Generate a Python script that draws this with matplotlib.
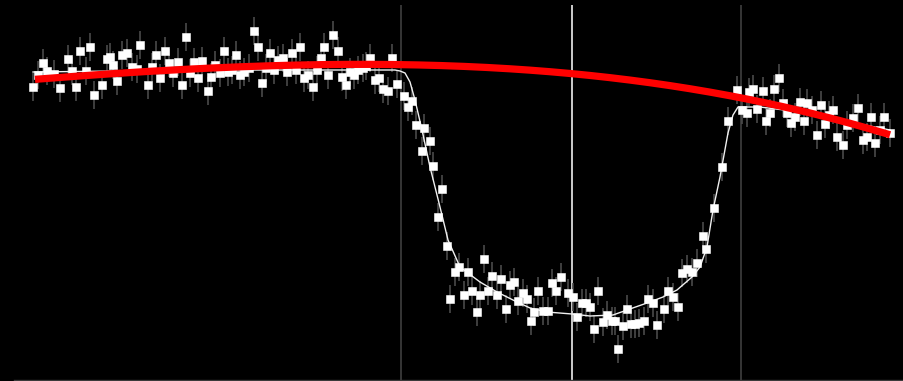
import numpy as np
import matplotlib
matplotlib.use("Agg")
import matplotlib.pyplot as plt

# Light curve of a transit: time since mid-transit (minutes) and relative flux
time_min = [
    -269.5, -267, -264.5, -262.5, -259, -256, -252, -250, -248, -246, -243, -241, -239,
    -235, -232.5, -231, -229.5, -227.5, -225, -222.5, -220, -217.5, -216, -212, -210,
    -208, -206, -203.5, -201.5, -199.5, -197, -195, -193, -191, -189, -187, -185, -182,
    -180.5, -178.5, -176, -174, -172, -170, -168, -166, -164, -161.5, -159, -157, -155,
    -153, -151, -149, -147, -144.5, -142.5, -140, -138, -136, -134, -132, -129.5,
    -127.5, -125.5, -124, -122, -119.5, -117, -115, -113, -111, -109, -107, -104.5,
    -103, -101, -98.5, -96.5, -94.5, -92, -90, -87.5,
    -84, -82, -80, -78, -75, -74, -71, -69.5, -67, -65, -62.5, -61, -58.5, -56.5, -54,
    -52, -50, -47.5, -46, -44, -42, -40, -37.5, -35.5, -33, -31, -29, -27, -24.5,
    -22.5, -20.5, -19, -17, -14.5, -12, -10, -8, -5.5, -2, 0.5, 2.5, 5, 7, 9, 11, 13,
    15.5, 17.5, 20, 21.5, 23, 25.5, 27.5, 29.5, 31.5, 33.5, 36, 38, 40.5, 42.5, 46, 48,
    50.5, 53, 55, 57.5, 60, 62.5, 65.5, 67, 71, 75, 78,
    82.5, 85, 87.5, 88.5, 90.5, 92.5, 95.5, 97, 99, 101, 103.5, 105.5, 107.5, 109.5,
    111.5, 114, 116, 117.5, 120, 122.5, 124.5, 126.5, 128.5, 130.5, 132.5, 135.5,
    137.5, 140.5, 143, 145.5, 147.5, 149.5, 151.5, 154, 156, 159,
]
rel_flux = [
    0.9978, 0.9990, 1.0002, 0.9994, 0.9991, 0.9977, 1.0006, 0.9994, 0.9978, 1.0014,
    0.9994, 1.0018, 0.9970, 0.9980, 1.0006, 1.0008, 1.0000, 0.9984, 1.0010, 1.0012,
    0.9998, 0.9996, 1.0020, 0.9980, 0.9998, 1.0010, 0.9987, 1.0014, 1.0002, 0.9992,
    1.0003, 0.9980, 1.0028, 0.9992, 1.0003, 0.9987, 1.0004, 0.9974, 0.9988, 1.0000,
    0.9992, 1.0014, 0.9993, 0.9995, 1.0010, 0.9990, 0.9993, 0.9997, 1.0034, 1.0018,
    0.9982, 0.9997, 1.0012, 0.9995, 1.0005, 1.0007, 0.9993, 1.0012, 0.9995, 1.0018,
    0.9987, 0.9990, 0.9978, 0.9995, 1.0007, 1.0018, 0.9990, 1.0030, 1.0014, 0.9988,
    0.9980, 0.9993, 0.9990, 0.9995, 0.9997, 0.9999, 1.0007, 0.9985, 0.9987, 0.9976,
    0.9974, 1.0007, 0.9981,
    0.9969, 0.9958, 0.9964, 0.9940, 0.9914, 0.9937, 0.9924, 0.9899, 0.9848, 0.9876,
    0.9819, 0.9766, 0.9793, 0.9798, 0.9770, 0.9793, 0.9774, 0.9753, 0.9770, 0.9806,
    0.9774, 0.9789, 0.9770, 0.9786, 0.9756, 0.9780, 0.9783, 0.9764, 0.9772, 0.9766,
    0.9744, 0.9753, 0.9774, 0.9754, 0.9754, 0.9782, 0.9774, 0.9788, 0.9772, 0.9768,
    0.9748, 0.9762, 0.9762, 0.9758, 0.9736, 0.9774, 0.9743, 0.9750, 0.9744, 0.9744,
    0.9716, 0.9739, 0.9756, 0.9741, 0.9741, 0.9742, 0.9744, 0.9766, 0.9762, 0.9740,
    0.9756, 0.9774, 0.9768, 0.9758, 0.9792, 0.9796, 0.9793, 0.9802, 0.9829, 0.9816,
    0.9857, 0.9898, 0.9944,
    0.9975, 0.9955, 0.9952, 0.9973, 0.9976, 0.9956, 0.9974, 0.9944, 0.9952, 0.9976,
    0.9987, 0.9962, 0.9952, 0.9942, 0.9948, 0.9963, 0.9944, 0.9962, 0.9955, 0.9930,
    0.9960, 0.9941, 0.9950, 0.9955, 0.9928, 0.9920, 0.9940, 0.9947, 0.9957, 0.9925,
    0.9928, 0.9948, 0.9922, 0.9935, 0.9948, 0.9932,
]
flux_err = 0.0014

# Fitted transit model (time, flux)
model_time = [
    -269.5, -186, -88.5, -86, -83.5, -81, -78.5, -75, -71, -66, -62, -56, -46, -37.5,
    -29.5, -21, -12.5, 0, 9, 20.5, 27.5, 37.5, 45.5, 52.5, 60, 64, 67.5, 70.5, 74, 78,
    80.5, 83, 94, 114, 139, 159,
]
model_flux = [
    0.9993, 0.9995, 0.9995, 0.9994, 0.9992, 0.9983, 0.9965, 0.9935, 0.9898, 0.9858,
    0.9825, 0.9798, 0.9783, 0.9773, 0.9765, 0.9757, 0.9753, 0.9751, 0.9749, 0.9750,
    0.9755, 0.9762, 0.9768, 0.9775, 0.9788, 0.9798, 0.9818, 0.9855, 0.9888, 0.9932,
    0.9950, 0.9958, 0.9958, 0.9953, 0.9943, 0.9935,
]

# Out-of-transit baseline trend (cubic through these anchor values)
trend_time = [-268.5, -136, -86, 0, 14, 84, 158]
trend_flux = [0.99855, 1.00005, 1.0001, 0.9990, 0.9987, 0.9970, 0.9930]

# Contact times: ingress, mid-transit, egress
contacts = [-85.5, 0.0, 84.5]
contact_colors = ["#363636", "#cccccc", "#363636"]

fig = plt.figure(figsize=(9.04, 3.81), dpi=100, facecolor="black")
ax = fig.add_axes([14 / 904, 1.5 / 381, 1 - 14 / 904, 1 - 6.5 / 381])
ax.set_facecolor("black")

for tc, col in zip(contacts, contact_colors):
    ax.axvline(tc, color=col, lw=1.4, zorder=1)

ax.errorbar(time_min, rel_flux, yerr=flux_err, fmt="none", ecolor="#4a4a4a",
            elinewidth=1.2, capsize=0, zorder=2)
ax.plot(model_time, model_flux, color="#f0f0f0", lw=1.0, zorder=3)
ax.plot(time_min, rel_flux, ls="none", marker="s", ms=5.6, mfc="white",
        mec="white", mew=0.4, zorder=4)

coef = np.polyfit(trend_time, trend_flux, 3)
tt = np.linspace(trend_time[0], trend_time[-1] + 1, 300)
ax.plot(tt, np.polyval(coef, tt), color="#ff0000", lw=5.2,
        solid_capstyle="butt", zorder=5)

ax.set_xlim(-279, 166)
ax.set_ylim(0.96855, 1.0060)
for side in ("top", "left", "right"):
    ax.spines[side].set_visible(False)
ax.spines["bottom"].set_color("#3a3a3a")
ax.spines["bottom"].set_linewidth(1.0)
ax.set_xticks([])
ax.set_yticks([])

fig.savefig("out.png", dpi=100, facecolor="black")
